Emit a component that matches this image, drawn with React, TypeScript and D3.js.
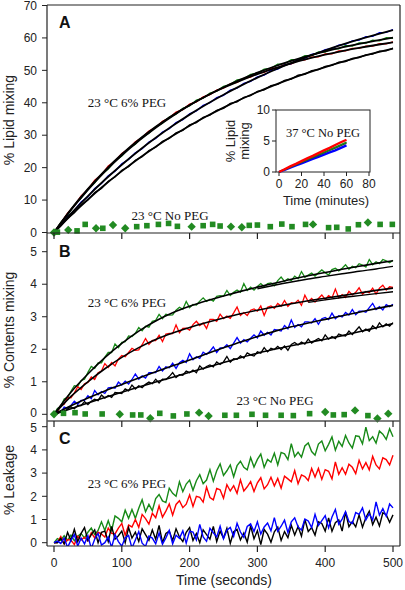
import React from 'react';
import * as d3 from 'd3';

const W = 405;
const H = 590;
const SANS = "'Liberation Sans', Arial, Helvetica, sans-serif";
const SERIF = "'Liberation Serif', 'Times New Roman', serif";

const GREEN = '#178a17';
const RED = '#ff0000';
const BLUE = '#0000ff';
const BLACK = '#000000';
const MARKER_GREEN = '#228b22';
const FRAME = '#222222';

// ---------- tick labels ----------
const xTicks = [0, 100, 200, 300, 400, 500];
const aTicks = [0, 10, 20, 30, 40, 50, 60, 70];
const bTicks = [0, 1, 2, 3, 4, 5];
const cTicks = [0, 1, 2, 3, 4, 5];
const insetXTicks = [0, 20, 40, 60, 80];
const insetYTicks = [0, 5, 10];

// sampling steps of the recorded traces (seconds, minutes)
const STEP_A = 10;
const STEP_FIT = 25;
const STEP_BC = 5;
const STEP_INSET = 5;

// ---------- Panel A: lipid mixing, 23 °C 6% PEG ----------
const aGreen = [0, 3.1, 5.4, 8.5, 10.6, 13.4, 15.3, 17.9, 19.6, 22.1, 23.6, 25.9, 27.2, 29.4, 30.6, 32.6, 33.7, 35.6, 36.5, 38.3, 39.0, 40.8, 41.4, 43.0, 43.6, 45.1, 45.6, 47.1, 47.4, 48.8, 49.1, 50.4, 50.6, 51.9, 52.0, 53.3, 53.4, 54.5, 54.5, 55.7, 55.6, 56.7, 56.6, 57.7, 57.5, 58.5, 58.4, 59.3, 59.1, 60.1, 59.9];
const aRed = [0, 2.8, 6.0, 8.3, 11.3, 13.3, 16.1, 17.8, 20.5, 22.0, 24.4, 25.8, 28.0, 29.3, 31.3, 32.4, 34.3, 35.3, 37.1, 37.9, 39.6, 40.3, 41.8, 42.5, 43.9, 44.5, 45.8, 46.3, 47.5, 47.9, 49.1, 49.4, 50.5, 50.8, 51.8, 52.0, 53.0, 53.2, 54.1, 54.2, 55.1, 55.1, 56.0, 56.0, 56.8, 56.8, 57.5, 57.5, 58.2, 58.2, 58.8];
const aBlue = [0, 2.2, 4.9, 6.8, 9.4, 11.0, 13.6, 15.1, 17.5, 18.9, 21.2, 22.5, 24.6, 25.8, 27.9, 29.0, 31.0, 32.0, 33.9, 34.8, 36.6, 37.5, 39.2, 40.0, 41.6, 42.3, 43.9, 44.5, 46.0, 46.6, 48.0, 48.5, 49.9, 50.4, 51.7, 52.1, 53.4, 53.7, 54.9, 55.3, 56.4, 56.7, 57.8, 58.1, 59.1, 59.3, 60.4, 60.5, 61.6, 61.7, 62.6];
const aBlack = [0, 2.0, 4.4, 6.1, 8.5, 10.0, 12.3, 13.6, 15.8, 17.1, 19.2, 20.3, 22.3, 23.4, 25.3, 26.3, 28.1, 29.0, 30.7, 31.5, 33.2, 33.9, 35.5, 36.2, 37.7, 38.3, 39.8, 40.3, 41.7, 42.2, 43.5, 44.0, 45.3, 45.7, 46.9, 47.3, 48.5, 48.8, 49.9, 50.2, 51.2, 51.5, 52.5, 52.7, 53.7, 53.9, 54.8, 55.0, 55.9, 56.0, 56.9];

const aFitGreen = [0, 6.93, 13.16, 18.75, 23.77, 28.27, 32.32, 35.96, 39.22, 42.15, 44.79, 47.15, 49.28, 51.19, 52.90, 54.44, 55.82, 57.06, 58.18, 59.18, 60.08];
const aFitRed = [0, 7.12, 13.46, 19.10, 24.13, 28.60, 32.59, 36.14, 39.30, 42.11, 44.62, 46.85, 48.84, 50.61, 52.18, 53.59, 54.83, 55.95, 56.94, 57.82, 58.61];
const aFitBlue = [0, 5.84, 11.25, 16.26, 20.91, 25.22, 29.21, 32.92, 36.35, 39.54, 42.49, 45.22, 47.76, 50.11, 52.29, 54.31, 56.19, 57.92, 59.53, 61.02, 62.41];
const aFitBlack = [0, 5.28, 10.17, 14.71, 18.92, 22.83, 26.46, 29.81, 32.94, 35.83, 38.51, 41.01, 43.32, 45.46, 47.46, 49.30, 51.01, 52.60, 54.08, 55.44, 56.71];

// Panel A: 23 °C No PEG markers (d = diamond, s = square)
const aNoPegT = [0, 5, 21, 34, 46, 62, 72, 87, 105, 122, 137, 154, 169, 182, 203, 220, 234, 245, 261, 277, 288, 300, 319, 336, 351, 371, 382, 405, 417, 434, 449, 463, 481, 499];
const aNoPegV = [0, 0.1, 0.8, 0.5, 2.5, 1.3, 1.3, 2.3, 1.3, 1.8, 2.1, 2.5, 2.8, 1.9, 1.8, 2.1, 2.5, 2.0, 1.8, 1.6, 2.2, 2.3, 1.8, 2.6, 1.8, 2.5, 2.5, 1.5, 1.6, 1.1, 2.4, 3.1, 2.5, 2.5];
const aNoPegShape = ['d', 's', 'd', 's', 's', 'd', 's', 'd', 'd', 's', 's', 's', 's', 's', 'd', 's', 's', 's', 'd', 'd', 's', 's', 's', 's', 's', 's', 'd', 's', 's', 's', 's', 'd', 's', 's'];

// Inset: 37 °C No PEG (minutes)
const inRed = [0, 0.45, 0.9, 1.3, 1.75, 2.2, 2.6, 3.05, 3.5, 3.9, 4.35, 4.8, 5.2];
const inGreen = [0, 0.4, 0.8, 1.2, 1.6, 2.0, 2.4, 2.8, 3.2, 3.6, 4.0, 4.4, 4.8];
const inBlack = [0, 0.38, 0.77, 1.15, 1.55, 1.93, 2.32, 2.7, 3.1, 3.48, 3.87, 4.25, 4.65];
const inBlue = [0, 0.35, 0.7, 1.05, 1.4, 1.75, 2.1, 2.45, 2.8, 3.15, 3.5, 3.9, 4.3];

// ---------- Panel B: contents mixing ----------
const bGreen = [0, 0.18, 0.24, 0.47, 0.52, 0.71, 0.88, 0.86, 1.04, 1.08, 1.29, 1.47, 1.41, 1.58, 1.58, 1.76, 1.90, 1.90, 2.16, 2.05, 2.21, 2.23, 2.41, 2.39, 2.49, 2.67, 2.57, 2.71, 2.68, 2.86, 2.89, 3.07, 2.94, 3.08, 3.05, 3.06, 3.20, 3.29, 3.23, 3.47, 3.28, 3.38, 3.36, 3.48, 3.58, 3.47, 3.54, 3.48, 3.63, 3.65, 3.63, 3.81, 3.65, 3.75, 3.82, 3.75, 4.02, 3.81, 3.91, 3.82, 3.93, 4.02, 3.92, 4.02, 4.04, 3.95, 4.11, 4.22, 4.09, 4.17, 4.11, 4.25, 4.17, 4.39, 4.21, 4.28, 4.34, 4.25, 4.35, 4.44, 4.35, 4.28, 4.45, 4.49, 4.41, 4.49, 4.60, 4.46, 4.55, 4.51, 4.63, 4.59, 4.53, 4.76, 4.60, 4.69, 4.63, 4.76, 4.72, 4.66, 4.74];
const bRed = [0, 0.08, 0.27, 0.31, 0.52, 0.51, 0.66, 0.85, 0.76, 0.94, 0.98, 1.15, 1.07, 1.28, 1.33, 1.56, 1.44, 1.59, 1.49, 1.70, 1.81, 1.77, 1.90, 2.03, 1.97, 1.98, 2.14, 2.33, 2.15, 2.27, 2.27, 2.43, 2.24, 2.47, 2.49, 2.48, 2.75, 2.51, 2.64, 2.65, 2.59, 2.76, 2.86, 2.73, 2.81, 2.64, 2.92, 2.92, 2.86, 3.08, 2.94, 3.02, 2.95, 3.12, 3.30, 3.04, 3.13, 3.04, 3.20, 3.24, 3.17, 3.33, 3.04, 3.29, 3.33, 3.26, 3.41, 3.32, 3.50, 3.32, 3.43, 3.41, 3.51, 3.35, 3.66, 3.46, 3.56, 3.45, 3.56, 3.67, 3.53, 3.65, 3.58, 3.85, 3.58, 3.68, 3.59, 3.78, 3.67, 3.75, 3.89, 3.69, 3.78, 3.74, 3.88, 3.70, 3.88, 3.97, 3.82, 3.92, 3.90];
const bBlue = [0, 0.07, 0.06, 0.22, 0.18, 0.27, 0.40, 0.31, 0.43, 0.43, 0.57, 0.48, 0.73, 0.60, 0.70, 0.64, 0.81, 0.83, 0.80, 0.99, 0.90, 1.02, 0.93, 1.07, 1.24, 1.08, 1.18, 1.11, 1.28, 1.28, 1.28, 1.47, 1.33, 1.46, 1.43, 1.57, 1.41, 1.59, 1.66, 1.59, 1.86, 1.68, 1.77, 1.72, 1.91, 1.84, 1.94, 2.07, 1.90, 2.04, 2.04, 2.14, 2.02, 2.19, 2.36, 2.19, 2.30, 2.23, 2.34, 2.44, 2.35, 2.56, 2.43, 2.52, 2.44, 2.61, 2.59, 2.56, 2.73, 2.63, 2.90, 2.67, 2.76, 2.69, 2.84, 2.84, 2.81, 2.94, 2.77, 2.94, 2.98, 2.91, 3.11, 2.94, 3.03, 2.99, 3.13, 3.05, 3.22, 3.06, 3.17, 3.17, 3.14, 3.28, 3.41, 3.22, 3.31, 3.21, 3.37, 3.31, 3.38];
const bBlack = [0, 0.01, 0.11, 0.07, 0.16, 0.23, 0.17, 0.27, 0.27, 0.39, 0.30, 0.40, 0.46, 0.42, 0.59, 0.50, 0.58, 0.52, 0.67, 0.66, 0.64, 0.78, 0.72, 0.90, 0.78, 0.88, 0.82, 0.92, 0.99, 0.94, 1.08, 0.96, 1.08, 1.07, 1.16, 1.28, 1.13, 1.22, 1.20, 1.33, 1.28, 1.36, 1.28, 1.49, 1.39, 1.47, 1.52, 1.46, 1.61, 1.53, 1.61, 1.78, 1.60, 1.71, 1.69, 1.80, 1.73, 1.89, 1.83, 1.79, 1.92, 1.88, 2.05, 1.92, 2.03, 1.99, 2.09, 1.99, 2.10, 1.97, 2.15, 2.21, 2.13, 2.22, 2.16, 2.31, 2.19, 2.27, 2.33, 2.26, 2.44, 2.31, 2.39, 2.33, 2.47, 2.43, 2.41, 2.56, 2.45, 2.57, 2.69, 2.54, 2.62, 2.55, 2.72, 2.63, 2.81, 2.69, 2.78, 2.71, 2.82];

const bFitGreen = [0, 0.68, 1.24, 1.74, 2.18, 2.56, 2.87, 3.12, 3.32, 3.49, 3.64, 3.78, 3.91, 4.03, 4.15, 4.26, 4.36, 4.46, 4.55, 4.64, 4.72];
const bFitRed = [0, 0.55, 1.00, 1.40, 1.75, 2.05, 2.30, 2.50, 2.67, 2.82, 2.96, 3.09, 3.20, 3.30, 3.40, 3.49, 3.57, 3.65, 3.73, 3.81, 3.88];
const bFitBlue = [0, 0.26, 0.50, 0.72, 0.92, 1.12, 1.31, 1.49, 1.67, 1.86, 2.05, 2.22, 2.39, 2.55, 2.69, 2.81, 2.92, 3.03, 3.14, 3.25, 3.35];
const bFitBlack = [0, 0.17, 0.35, 0.52, 0.68, 0.84, 0.99, 1.14, 1.29, 1.44, 1.59, 1.74, 1.88, 2.00, 2.11, 2.21, 2.31, 2.42, 2.54, 2.66, 2.79];
// second (late-phase) fits, start times in seconds
const bFit2GreenStart = 300;
const bFit2Green = [3.86, 3.97, 4.07, 4.16, 4.24, 4.32, 4.40, 4.47, 4.55];
const bFit2RedStart = 375;
const bFit2Red = [3.44, 3.52, 3.59, 3.65, 3.71, 3.77];

// Panel B: 23 °C No PEG markers
const bNoPegT = [0, 14, 31, 46, 71, 97, 116, 128, 142, 156, 176, 196, 214, 228, 252, 269, 292, 312, 335, 353, 377, 400, 412, 428, 444, 463, 477, 493];
const bNoPegV = [0, 0.03, 0.05, 0.01, 0.01, 0, -0.02, -0.02, -0.12, 0.03, -0.05, 0.01, 0.05, -0.05, -0.03, -0.03, 0, -0.03, -0.03, -0.04, 0.02, 0.07, -0.02, -0.01, 0.12, -0.04, -0.13, 0.02];
const bNoPegShape = ['d', 's', 's', 's', 's', 'd', 's', 's', 'd', 's', 's', 's', 'd', 'd', 's', 's', 's', 's', 's', 's', 's', 'd', 's', 's', 'd', 's', 'd', 'd'];

// ---------- Panel C: leakage ----------
const cGreen = [0, 0.18, 0.10, 0.30, 0.10, 0.33, 0.08, 0.28, 0.40, 0.20, 0.45, 0.63, 0.35, 0.53, 0.90, 0.53, 0.95, 0.53, 1.15, 1.05, 0.90, 1.40, 1.05, 1.43, 1.05, 1.48, 1.85, 1.33, 1.65, 1.38, 1.90, 2.08, 1.80, 1.73, 2.35, 2.13, 2.00, 2.63, 2.20, 2.53, 2.70, 2.26, 2.67, 2.93, 2.54, 2.70, 3.15, 2.65, 3.10, 3.40, 2.90, 3.10, 3.35, 2.84, 3.32, 3.51, 3.25, 3.14, 3.67, 3.26, 3.59, 3.82, 3.25, 3.59, 3.47, 3.86, 3.35, 3.89, 3.83, 3.58, 4.27, 3.71, 3.90, 3.69, 4.17, 4.30, 3.93, 3.77, 4.25, 4.38, 3.96, 4.24, 4.56, 3.99, 4.37, 4.15, 4.62, 4.30, 4.08, 4.61, 4.58, 4.26, 4.98, 4.40, 4.57, 4.29, 4.81, 4.68, 4.45, 4.91, 4.57];
const cRed = [0, 0.02, 0.27, -0.05, 0.14, 0.11, -0.08, 0.28, 0.12, 0.24, 0.08, 0.43, 0.21, 0.45, 0.38, 0.24, 0.63, 0.40, 0.38, 0.63, 0.83, 0.32, 0.76, 0.68, 1.00, 0.66, 1.22, 1.04, 0.80, 1.27, 1.08, 1.59, 1.10, 1.36, 1.67, 1.19, 1.65, 1.81, 1.51, 1.66, 2.06, 1.56, 2.00, 1.95, 1.75, 2.40, 1.95, 1.85, 2.34, 2.28, 1.92, 2.50, 2.23, 2.46, 2.13, 2.71, 2.23, 2.41, 2.63, 2.21, 2.58, 2.80, 2.32, 2.50, 2.82, 2.45, 2.77, 2.35, 2.87, 2.75, 2.63, 3.11, 2.54, 2.92, 2.85, 2.68, 3.20, 2.83, 3.20, 2.73, 3.15, 3.08, 2.75, 3.48, 2.95, 3.23, 2.95, 3.38, 3.25, 2.98, 3.55, 3.18, 3.45, 3.14, 3.72, 3.35, 3.18, 3.66, 3.58, 3.35, 3.77];
const cBlack = [0, 0, 0.18, -0.05, 0.45, 0.10, 0.58, 0.05, 0.40, 0.65, 0.10, 0.35, 0.55, 0, 0.45, 0.50, 0.05, 0.70, 0.15, 0.30, 0.50, 0, 0.65, 0.20, 0.45, 0.05, 0.60, 0.35, 0.10, 0.55, 0.15, 0.75, 0, 0.40, 0.50, 0.10, 0.60, 0.25, 0.05, 0.45, 0.65, 0.10, 0.40, 0, 0.55, 0.35, 0.15, 0.70, 0.05, 0.50, 0.20, 0.62, -0.03, 0.47, 0.57, 0.12, 0.42, 0.02, 0.72, 0.17, 0.52, -0.08, 0.57, 0.37, 0.02, 0.47, 0.67, 0.10, 0.48, 0.22, 0.75, 0.33, 0.70, 0.28, 1.00, 0.48, 0.65, 0.33, 0.90, 0.83, 0.50, 1.07, 0.49, 0.86, 0.98, 0.50, 1.32, 0.69, 0.91, 0.68, 1.20, 0.67, 1.09, 1.36, 0.78, 1.10, 0.72, 1.29, 1.21, 0.88, 1.20];
const cBlue = [0, 0.07, -0.03, 0.20, -0.20, 0.10, 0.35, -0.15, 0.20, -0.05, 0.30, -0.25, 0.15, 0.40, -0.10, 0, 0.25, -0.20, 0.35, 0.05, -0.15, 0.21, 0.31, -0.23, 0.12, 0.48, -0.02, -0.16, 0.29, 0.20, -0.05, 0.42, -0.06, 0.21, 0.53, -0.05, 0.32, 0.19, 0.51, -0.02, 0.50, 0.46, 0.12, 0.79, 0.25, 0.06, 0.62, 0.43, 0.25, 0.71, 0.17, 0.54, 0.66, 0.27, 0.84, 0.46, 0.23, 0.70, 0.81, 0.48, 0.90, 0.37, 0.68, 0.85, 0.51, 1.08, 0.49, 0.71, 0.97, 0.44, 0.90, 1.07, 0.68, 0.55, 1.02, 0.94, 0.65, 1.22, 0.74, 0.95, 1.17, 0.64, 1.11, 1.43, 0.80, 1.02, 1.34, 0.91, 0.83, 1.30, 1.22, 1.50, 0.98, 1.25, 0.98, 1.76, 1.19, 1.47, 1.14, 1.67, 1.50];

// ---------- scales (pixel layout) ----------
const x = d3.scaleLinear().domain([0, 500]).range([54, 393]);
const yA = d3.scaleLinear().domain([0, 70]).range([232.5, 5.5]);
const yB = d3.scaleLinear().domain([0, 5]).range([414.3, 251.7]);
const yC = d3.scaleLinear().domain([0, 5]).range([542.7, 426.7]);
const xi = d3.scaleLinear().domain([0, 80]).range([279, 369]);
const yi = d3.scaleLinear().domain([0, 10]).range([172, 110]);

const FL = 47, FR = 400, FT = 5, AB = 233, BB = 421, CB = 546;

function path(vs: number[], step: number, xs: any, ys: any, curve: any = d3.curveLinear, t0 = 0) {
  const gen = d3.line<number>().x((_, i) => xs(t0 + i * step)).y((d) => ys(d)).curve(curve);
  return gen(vs) || '';
}

function Marker({ cx, cy, shape }: { cx: number; cy: number; shape: string }) {
  if (shape === 'd') {
    const r = 4.2;
    return <path d={`M${cx},${cy - r}L${cx + r},${cy}L${cx},${cy + r}L${cx - r},${cy}Z`} fill={MARKER_GREEN} />;
  }
  const s = 5.6;
  return <rect x={cx - s / 2} y={cy - s / 2} width={s} height={s} fill={MARKER_GREEN} />;
}

function YAxis({ ticks, ys, nudge = {} }: { ticks: number[]; ys: any; nudge?: Record<number, number> }) {
  return (
    <g>
      {ticks.map((t) => (
        <g key={t}>
          <line x1={FL - 5} x2={FL} y1={ys(t)} y2={ys(t)} stroke={FRAME} strokeWidth={1} />
          <text x={37} y={ys(t) + (nudge[t] || 0)} dy="0.35em" textAnchor="end" fontFamily={SANS} fontSize={12} fill="#222">
            {t}
          </text>
        </g>
      ))}
    </g>
  );
}

function XTicks({ y0 }: { y0: number }) {
  return (
    <g>
      {xTicks.map((t) => (
        <line key={t} x1={x(t)} x2={x(t)} y1={y0} y2={y0 + 6} stroke={FRAME} strokeWidth={1.2} />
      ))}
    </g>
  );
}

export default function App() {
  const fitCurve = d3.curveMonotoneX;
  return (
    <div style={{ position: 'absolute', left: 0, top: 0, width: W, height: H, background: '#fff' }}>
      <svg width={W} height={H} viewBox={`0 0 ${W} ${H}`} style={{ display: 'block' }}>
        <defs>
          <clipPath id="clipA"><rect x={FL} y={FT} width={FR - FL} height={AB - FT} /></clipPath>
          <clipPath id="clipB"><rect x={FL} y={AB} width={FR - FL} height={BB - AB} /></clipPath>
          <clipPath id="clipC"><rect x={FL} y={BB} width={FR - FL} height={CB - BB} /></clipPath>
        </defs>
        <rect x={0} y={0} width={W} height={H} fill="#fff" />

        {/* Panel A */}
        <g clipPath="url(#clipA)">
          <path d={path(aGreen, STEP_A, x, yA)} fill="none" stroke={GREEN} strokeWidth={1.3} />
          <path d={path(aRed, STEP_A, x, yA)} fill="none" stroke={RED} strokeWidth={1.3} />
          <path d={path(aBlue, STEP_A, x, yA)} fill="none" stroke={BLUE} strokeWidth={1.3} />
          <path d={path(aBlack, STEP_A, x, yA)} fill="none" stroke={BLACK} strokeWidth={1.3} />
          {[aFitGreen, aFitRed, aFitBlue, aFitBlack].map((f, i) => (
            <path key={i} d={path(f, STEP_FIT, x, yA, fitCurve)} fill="none" stroke={BLACK} strokeWidth={1.8} />
          ))}
        </g>
        {aNoPegT.map((t, i) => (
          <Marker key={'a' + i} cx={x(t)} cy={yA(aNoPegV[i])} shape={aNoPegShape[i]} />
        ))}

        {/* Inset */}
        <rect x={276} y={110} width={94} height={62} fill="#fff" stroke={FRAME} strokeWidth={1} />
        <path d={path(inBlue, STEP_INSET, xi, yi)} fill="none" stroke={BLUE} strokeWidth={2.4} />
        <path d={path(inBlack, STEP_INSET, xi, yi)} fill="none" stroke={'#333'} strokeWidth={1.4} />
        <path d={path(inGreen, STEP_INSET, xi, yi)} fill="none" stroke={GREEN} strokeWidth={1.6} />
        <path d={path(inRed, STEP_INSET, xi, yi)} fill="none" stroke={RED} strokeWidth={2.4} />
        {insetYTicks.map((t) => (
          <g key={'iy' + t}>
            <line x1={272} x2={276} y1={yi(t)} y2={yi(t)} stroke={FRAME} />
            <text x={270} y={yi(t)} dy="0.35em" textAnchor="end" fontFamily={SANS} fontSize={12} fill="#222">{t}</text>
          </g>
        ))}
        {insetXTicks.map((t) => (
          <g key={'ix' + t}>
            <line x1={xi(t)} x2={xi(t)} y1={172} y2={176} stroke={FRAME} />
            <text x={xi(t)} y={184} dy="0.35em" textAnchor="middle" fontFamily={SANS} fontSize={12} fill="#222">{t}</text>
          </g>
        ))}
        <text x={326} y={200} dy="0.35em" textAnchor="middle" fontFamily={SANS} fontSize={13} fill="#222">Time (minutes)</text>
        <text transform="translate(230,141) rotate(-90)" textAnchor="middle" dy="0.35em" fontFamily={SANS} fontSize={13} fill="#222">% Lipid</text>
        <text transform="translate(244,141) rotate(-90)" textAnchor="middle" dy="0.35em" fontFamily={SANS} fontSize={13} fill="#222">mixing</text>
        <text x={323} y={137} textAnchor="middle" fontFamily={SERIF} fontSize={12.5} fill="#111">37 °C No PEG</text>

        {/* Panel B */}
        <g clipPath="url(#clipB)">
          <path d={path(bGreen, STEP_BC, x, yB)} fill="none" stroke={GREEN} strokeWidth={1.3} />
          <path d={path(bRed, STEP_BC, x, yB)} fill="none" stroke={RED} strokeWidth={1.3} />
          <path d={path(bBlue, STEP_BC, x, yB)} fill="none" stroke={BLUE} strokeWidth={1.3} />
          <path d={path(bBlack, STEP_BC, x, yB)} fill="none" stroke={BLACK} strokeWidth={1.3} />
          {[bFitGreen, bFitRed, bFitBlue, bFitBlack].map((f, i) => (
            <path key={i} d={path(f, STEP_FIT, x, yB, fitCurve)} fill="none" stroke={BLACK} strokeWidth={1.6} />
          ))}
          <path d={path(bFit2Green, STEP_FIT, x, yB, fitCurve, bFit2GreenStart)} fill="none" stroke={BLACK} strokeWidth={1.4} />
          <path d={path(bFit2Red, STEP_FIT, x, yB, fitCurve, bFit2RedStart)} fill="none" stroke={BLACK} strokeWidth={1.4} />
        </g>
        {bNoPegT.map((t, i) => (
          <Marker key={'b' + i} cx={x(t)} cy={yB(bNoPegV[i])} shape={bNoPegShape[i]} />
        ))}

        {/* Panel C */}
        <g clipPath="url(#clipC)">
          <path d={path(cGreen, STEP_BC, x, yC)} fill="none" stroke={GREEN} strokeWidth={1.4} />
          <path d={path(cRed, STEP_BC, x, yC)} fill="none" stroke={RED} strokeWidth={1.4} />
          <path d={path(cBlack, STEP_BC, x, yC)} fill="none" stroke={BLACK} strokeWidth={1.4} />
          <path d={path(cBlue, STEP_BC, x, yC)} fill="none" stroke={BLUE} strokeWidth={1.4} />
        </g>

        {/* Frame and panel dividers */}
        <line x1={FL} x2={FR} y1={FT} y2={FT} stroke={FRAME} strokeWidth={1.2} />
        <line x1={FL} x2={FL} y1={FT} y2={CB} stroke={FRAME} strokeWidth={1.2} />
        <line x1={FR} x2={FR} y1={FT} y2={CB} stroke={FRAME} strokeWidth={1.2} />
        <line x1={FL} x2={FR} y1={AB} y2={AB} stroke={FRAME} strokeWidth={1.2} />
        <line x1={FL} x2={FR} y1={BB} y2={BB} stroke={'#555'} strokeWidth={1.4} />
        <line x1={FL} x2={FR} y1={CB} y2={CB} stroke={FRAME} strokeWidth={1.2} />
        <XTicks y0={AB} />
        <XTicks y0={BB} />
        <XTicks y0={CB} />

        <YAxis ticks={aTicks} ys={yA} />
        <YAxis ticks={bTicks} ys={yB} nudge={{ 0: -1.2 }} />
        <YAxis ticks={cTicks} ys={yC} nudge={{ 5: 1.4 }} />

        {xTicks.map((t) => (
          <text key={'xl' + t} x={x(t)} y={563} dy="0.35em" textAnchor="middle" fontFamily={SANS} fontSize={12} fill="#222">{t}</text>
        ))}
        <text x={224} y={580} dy="0.35em" textAnchor="middle" fontFamily={SANS} fontSize={14} fill="#222">Time (seconds)</text>

        {/* axis titles */}
        <text transform="translate(9,120) rotate(-90)" textAnchor="middle" dy="0.35em" fontFamily={SANS} fontSize={14} fill="#222">% Lipid mixing</text>
        <text transform="translate(9,330) rotate(-90)" textAnchor="middle" dy="0.35em" fontFamily={SANS} fontSize={14} fill="#222">% Contents mixing</text>
        <text transform="translate(9,480) rotate(-90)" textAnchor="middle" dy="0.35em" fontFamily={SANS} fontSize={14} fill="#222">% Leakage</text>

        {/* panel letters */}
        <text x={59} y={28} fontFamily={SANS} fontWeight="bold" fontSize={16} fill="#111">A</text>
        <text x={59} y={257} fontFamily={SANS} fontWeight="bold" fontSize={16} fill="#111">B</text>
        <text x={59} y={444} fontFamily={SANS} fontWeight="bold" fontSize={16} fill="#111">C</text>

        {/* annotations */}
        <text x={127} y={107} textAnchor="middle" fontFamily={SERIF} fontSize={13} fill="#111">23 °C 6% PEG</text>
        <text x={170} y={220} textAnchor="middle" fontFamily={SERIF} fontSize={13} fill="#111">23 °C No PEG</text>
        <text x={127} y={307} textAnchor="middle" fontFamily={SERIF} fontSize={13} fill="#111">23 °C 6% PEG</text>
        <text x={275} y={405} textAnchor="middle" fontFamily={SERIF} fontSize={13} fill="#111">23 °C No PEG</text>
        <text x={127} y={488} textAnchor="middle" fontFamily={SERIF} fontSize={13} fill="#111">23 °C 6% PEG</text>
      </svg>
    </div>
  );
}
